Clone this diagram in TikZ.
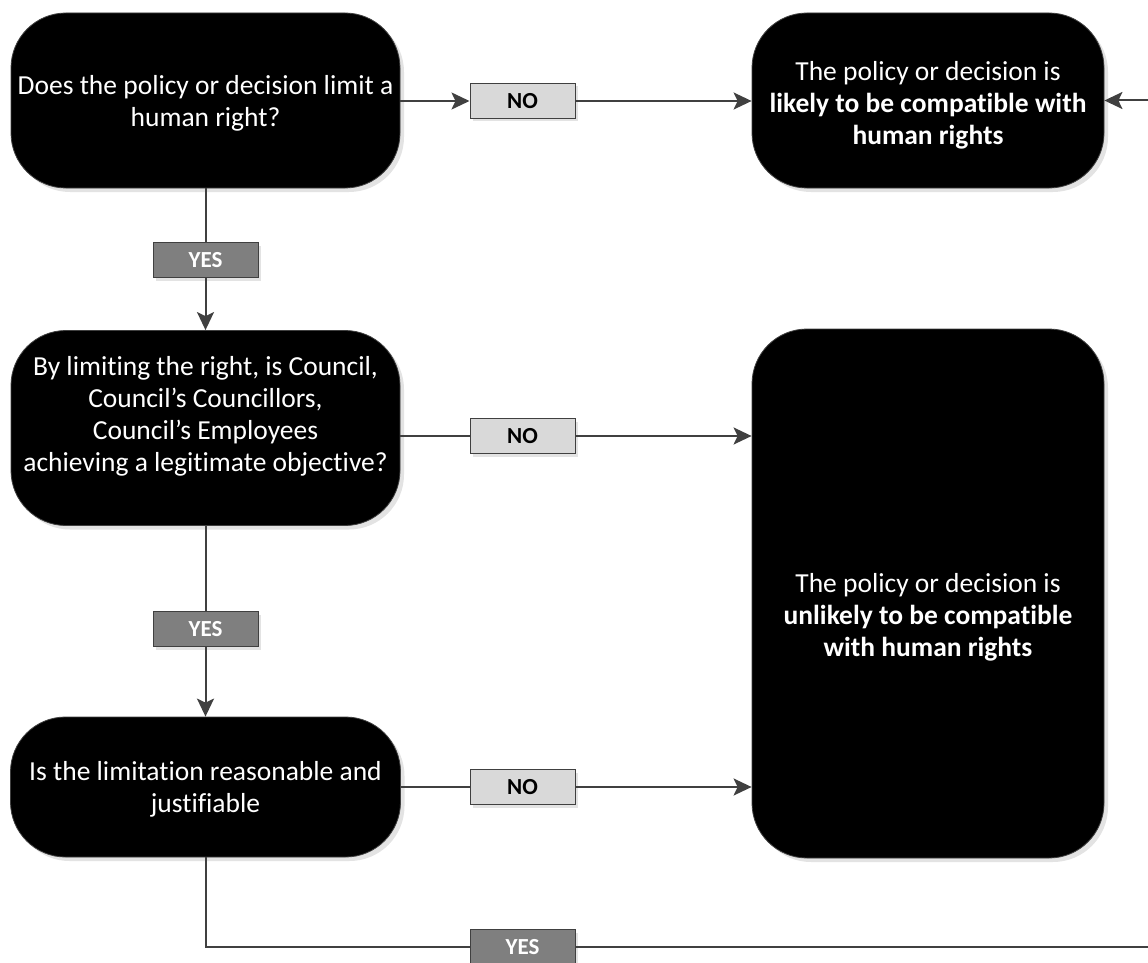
\documentclass[tikz,border=0pt]{standalone}
\usepackage{fontspec}
\setmainfont{Carlito}[Ligatures=NoCommon]
\usetikzlibrary{arrows.meta,shadows}
\definecolor{linegray}{HTML}{404040}
\definecolor{nofill}{HTML}{D9D9D9}
\definecolor{yesfill}{HTML}{7F7F7F}
\definecolor{shade}{HTML}{E3E3E3}
\tikzset{
  blackbox/.style={draw=linegray, line width=0.8pt, fill=black, text=white,
    rounded corners=55pt, align=center, inner sep=0pt,
    font=\fontsize{27.5}{32}\selectfont,
    drop shadow={shadow xshift=4pt, shadow yshift=-4pt, fill=shade, opacity=1}},
  nobox/.style={draw=linegray, line width=1pt, fill=nofill, text=black,
    minimum width=105pt, minimum height=35pt, inner sep=0pt,
    font=\fontsize{23}{26}\selectfont\bfseries,
    drop shadow={shadow xshift=3pt, shadow yshift=-3pt, fill=shade, opacity=1}},
  yesbox/.style={nobox, fill=yesfill, text=white},
  conn/.style={draw=linegray, line width=2pt},
  arr/.style={conn, -{Stealth[length=18pt, width=17pt, inset=4pt]}},
  boxtext/.style={align=center, text=white, font=\fontsize{27.5}{32}\selectfont, inner sep=0pt},
}
\begin{document}
\begin{tikzpicture}[x=1pt, y=-1pt]
\useasboundingbox (0,0) rectangle (1148,963);
\clip (0,0) rectangle (1148,963);
% main boxes
\node[blackbox, minimum width=389pt, minimum height=175pt] (n1) at (205.5,100.5) {};
\node[boxtext] (t1) at (205.5,103)
  {Does the policy or decision limit a\\ human right?};
\node[blackbox, minimum width=352pt, minimum height=175pt] (n2) at (928,100.5) {};
\node[boxtext] (t2) at (928,105)
  {The policy or decision is\\ \textbf{likely to be compatible with}\\ \textbf{human rights}};
\node[blackbox, minimum width=389pt, minimum height=195pt] (n3) at (205.5,428) {};
\node[boxtext] (t3) at (205.5,416)
  {By limiting the right, is Council,\\ Council’s Councillors,\\ Council’s Employees\\ achieving a legitimate objective?};
\node[blackbox, minimum width=352pt, minimum height=529pt] (n4) at (928,593.5) {};
\node[boxtext] (t4) at (928,617)
  {The policy or decision is\\ \textbf{unlikely to be compatible}\\ \textbf{with human rights}};
\node[blackbox, minimum width=390pt, minimum height=140pt] (n5) at (205.5,787) {};
\node[boxtext] (t5) at (205.5,789)
  {Is the limitation reasonable and\\ justifiable};
% labels
\node[nobox] (no1) at (522.5,101) {NO};
\node[nobox] (no2) at (522.5,436) {NO};
\node[nobox] (no3) at (522.5,787) {NO};
\node[yesbox] (yes1) at (205.5,260) {YES};
\node[yesbox] (yes2) at (205.5,629) {YES};
\node[yesbox] (yes3) at (522.5,947) {YES};
\coordinate (r1) at (1160,947);
\coordinate (r2) at (1160,100.5);
% connectors
\draw[arr] (n1.east |- no1) -- (no1.west);
\draw[arr] (no1.east) -- (n2.west |- no1);
\draw[conn] (n1.south) -- (yes1.north);
\draw[arr] (yes1.south) -- (n3.north);
\draw[conn] (n3.east |- no2) -- (no2.west);
\draw[arr] (no2.east) -- (n4.west |- no2);
\draw[conn] (n3.south) -- (yes2.north);
\draw[arr] (yes2.south) -- (n5.north);
\draw[conn] (n5.east |- no3) -- (no3.west);
\draw[arr] (no3.east) -- (n4.west |- no3);
\draw[conn] (n5.south) -- (n5.south |- yes3) -- (yes3.west);
\draw[conn] (yes3.east) -- (r1);
\draw[arr] (r2) -- (n2.east);
\end{tikzpicture}
\end{document}
